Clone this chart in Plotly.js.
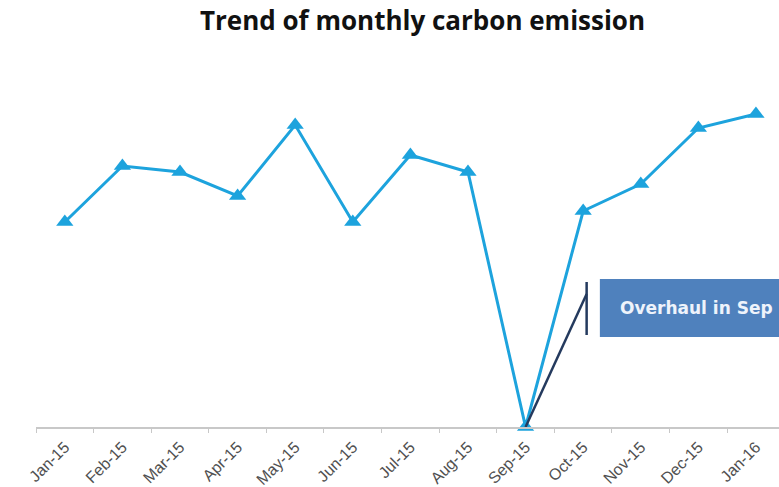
<!DOCTYPE html>
<html>
<head>
<meta charset="utf-8">
<script src="https://cdn.plot.ly/plotly-3.0.1.min.js"></script>
<style>html,body{margin:0;padding:0;background:#fff;}#chart{width:779px;height:487px;}</style>
</head>
<body>
<div id="chart"></div>
<script>
const months = ["Jan-15","Feb-15","Mar-15","Apr-15","May-15","Jun-15","Jul-15","Aug-15","Sep-15","Oct-15","Nov-15","Dec-15","Jan-16"];
const emissions = [205, 261, 255, 231, 302, 205, 272, 255, 0, 216, 243, 299, 313];
const noteText = "Overhaul in Sep";

const trace = {
  x: months,
  y: emissions,
  type: "scatter",
  mode: "lines+markers",
  line: {color: "#1da3dd", width: 3},
  marker: {symbol: "triangle-up", size: 15, color: "#1da3dd"},
  cliponaxis: false,
  hoverinfo: "x+y"
};

const layout = {
  width: 779,
  height: 487,
  margin: {l: 36, r: 0, t: 77, b: 60},
  paper_bgcolor: "#ffffff",
  plot_bgcolor: "#ffffff",
  showlegend: false,
  title: {
    text: "<b>Trend of monthly carbon emission</b>",
    font: {family: "Open Sans, sans-serif", size: 26, color: "#111111"},
    x: 0.5424, xref: "container", xanchor: "center",
    y: 0.957, yref: "container", yanchor: "middle"
  },
  xaxis: {
    type: "category",
    range: [-0.5, 12.4],
    showline: true,
    linecolor: "#c8c8c8",
    linewidth: 1.5,
    ticks: "outside",
    ticklen: 4,
    tickcolor: "#c8c8c8",
    tickson: "boundaries",
    tickangle: -45,
    ticklabelstandoff: 3,
    tickfont: {family: "Liberation Sans, Arial, sans-serif", size: 16, color: "#505050"},
    showgrid: false,
    zeroline: false,
    fixedrange: true
  },
  yaxis: {
    range: [0, 350],
    visible: false,
    showgrid: false,
    zeroline: false,
    fixedrange: true
  },
  shapes: [
    {type: "rect", xref: "x", yref: "y", x0: 9.29, x1: 13.5, y0: 90, y1: 148,
     fillcolor: "#4f81bd", line: {width: 0}, layer: "below"},
    {type: "line", xref: "x", yref: "y", x0: 8, y0: 0, x1: 9.06, y1: 133,
     line: {color: "#243a5e", width: 2.5}},
    {type: "line", xref: "x", yref: "y", x0: 9.06, y0: 92, x1: 9.06, y1: 145,
     line: {color: "#243a5e", width: 2.5}}
  ],
  annotations: [
    {xref: "x", yref: "y", x: 9.61, y: 119, xanchor: "left", yanchor: "middle",
     text: noteText, showarrow: false,
     font: {family: "DejaVu Sans, sans-serif", size: 17, color: "#eef3fb", weight: "bold"}}
  ]
};

Plotly.newPlot("chart", [trace], layout, {displayModeBar: false, staticPlot: true});
</script>
</body>
</html>
